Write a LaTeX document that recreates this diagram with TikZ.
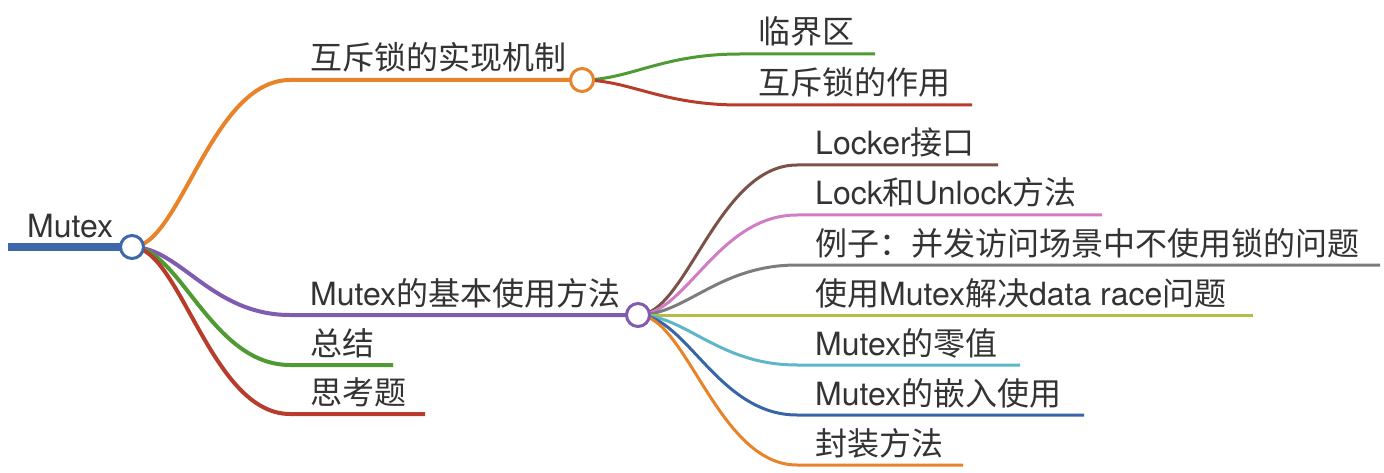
\documentclass[tikz,border=0pt]{standalone}
\usepackage{fontspec}
\setmainfont{TeX Gyre Heros}
\newfontfamily\cjk{Noto Sans CJK SC}
\usepackage{xcolor}
\usepackage{tikz}

\definecolor{cRoot}{HTML}{3D68AA}
\definecolor{cOrange}{HTML}{E8832A}
\definecolor{cGreen}{HTML}{4F9A32}
\definecolor{cRed}{HTML}{B73C2C}
\definecolor{cPurple}{HTML}{7F5CAF}
\definecolor{cBrown}{HTML}{7A5247}
\definecolor{cPink}{HTML}{D17DC6}
\definecolor{cGray}{HTML}{7C7C7C}
\definecolor{cOlive}{HTML}{B6BE4A}
\definecolor{cCyan}{HTML}{5DB6CA}
\definecolor{cBlue}{HTML}{3765A8}
\definecolor{cText}{HTML}{333333}

\tikzset{
    txt/.style={anchor=base west, inner sep=0pt, text=cText, font=\fontsize{32}{38}\selectfont},
    hub/.style={circle, fill=white, line width=3pt, minimum size=23pt, inner sep=0pt},
    branch/.style={line width=4pt},
    twig/.style={line width=3pt}
}

\begin{document}
\begin{tikzpicture}[x=1pt, y=-1pt]
    \useasboundingbox (0,0) rectangle (1384,473);

    \coordinate (rootc) at (132,247);
    \coordinate (rootend) at (8,247);
    \coordinate (mechc) at (582,80);
    \coordinate (usagec) at (638,315);

    \coordinate (mechs) at (290,80);
    \coordinate (usages) at (290,315);
    \coordinate (sums) at (290,365);
    \coordinate (sume) at (393,365);
    \coordinate (quizs) at (290,414);
    \coordinate (quize) at (425,414);

    \coordinate (crits) at (740,54);
    \coordinate (crite) at (875,54);
    \coordinate (roles) at (740,105);
    \coordinate (rolee) at (972,105);

    % root
    \draw[line width=8pt, cRoot] (rootend) -- (rootc);
    \node[txt] (mutex) at (27,237) {Mutex};

    % first level
    \draw[branch, cOrange] (rootc) .. controls +(48,0) and +(-79,0) .. (mechs) -- (mechc);
    \draw[branch, cPurple] (rootc) .. controls +(48,0) and +(-79,0) .. (usages) -- (usagec);
    \draw[branch, cGreen] (rootc) .. controls +(48,0) and +(-79,0) .. (sums) -- (sume);
    \draw[branch, cRed] (rootc) .. controls +(48,0) and +(-79,0) .. (quizs) -- (quize);

    \node[txt] (mech) at (310,70) {\cjk 互斥锁的实现机制};
    \node[txt] (usage) at (310,305) {Mutex{\cjk 的基本使用方法}};
    \node[txt] (sum) at (310,355) {\cjk 总结};
    \node[txt] (quiz) at (310,404) {\cjk 思考题};

    % mechanism
    \draw[twig, cGreen] (mechc) .. controls +(48,0) and +(-79,0) .. (crits) -- (crite);
    \draw[twig, cRed] (mechc) .. controls +(48,0) and +(-79,0) .. (roles) -- (rolee);
    \node[txt] (crit) at (758,44) {\cjk 临界区};
    \node[txt] (role) at (758,95) {\cjk 互斥锁的作用};

    % usage
    \foreach \y/\e/\c/\t [count=\i] in {
        165/998/cBrown/{Locker{\cjk 接口}},
        215/1102/cPink/{Lock{\cjk 和}Unlock{\cjk 方法}},
        265/1380/cGray/{{\cjk 例子：并发访问场景中不使用锁的问题}},
        315/1253/cOlive/{{\cjk 使用}Mutex{\cjk 解决}data race{\cjk 问题}},
        365/1020/cCyan/{Mutex{\cjk 的零值}},
        415/1084/cBlue/{Mutex{\cjk 的嵌入使用}},
        465/963/cOrange/{{\cjk 封装方法}}} {
        \coordinate (use\i s) at (797,\y);
        \coordinate (use\i e) at (\e,\y);
        \draw[twig, \c] (usagec) .. controls +(48,0) and +(-79,0) .. (use\i s) -- (use\i e);
        \node[txt] (use\i) at (815,\y-10) {\t};
    }

    \node[hub, draw=cOrange] (mechhub) at (mechc) {};
    \node[hub, draw=cPurple] (usagehub) at (usagec) {};
    \node[hub, draw=cRoot] (roothub) at (rootc) {};
\end{tikzpicture}
\end{document}
